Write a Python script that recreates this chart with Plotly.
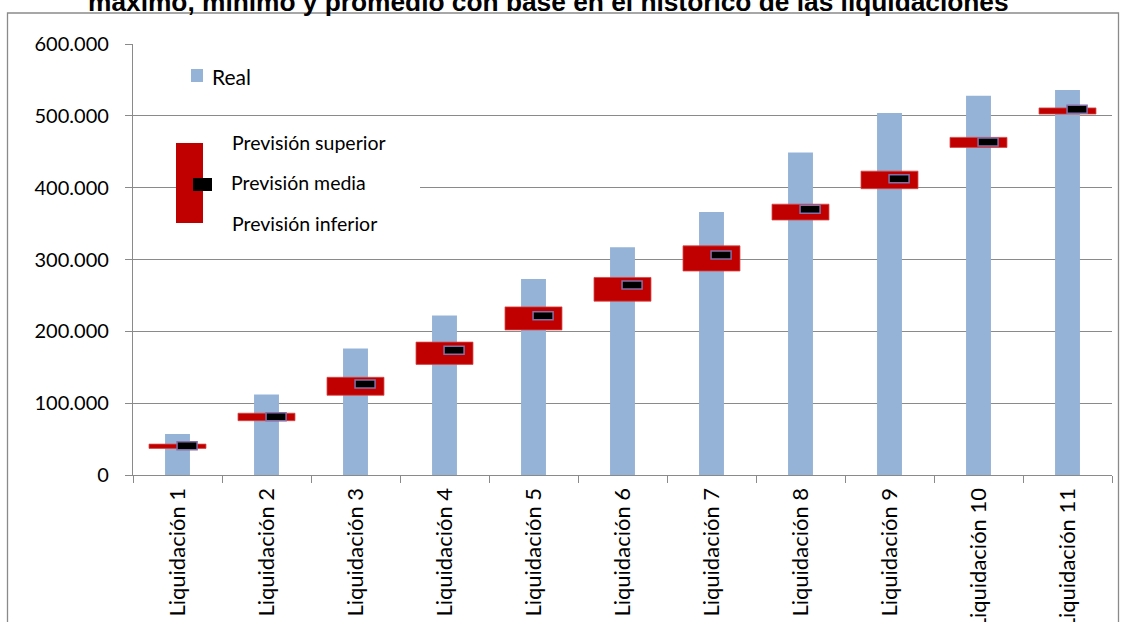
import plotly.graph_objects as go

# categories and values
categorias = ["Liquidación 1", "Liquidación 2", "Liquidación 3", "Liquidación 4",
              "Liquidación 5", "Liquidación 6", "Liquidación 7", "Liquidación 8",
              "Liquidación 9", "Liquidación 10", "Liquidación 11"]
real = [57000, 112000, 176000, 222000, 273000, 317000, 366000, 449000, 504000, 528000, 536000]
prevision_inferior = [37000, 75600, 111000, 154000, 202000, 242000, 284000, 355000, 398600, 456000, 502500]
prevision_superior = [43000, 86000, 136000, 185000, 234000, 275000, 319000, 377000, 423000, 470000, 511000]
prevision_media = [40600, 81200, 126700, 173600, 221800, 264500, 306200, 369800, 412500, 463600, 509000]

titulo = "máximo, mínimo y promedio con base en el histórico de las liquidaciones"

W, H = 1127, 622
L, R, T, B = 133, 15, 44, 147
PW, PH = W - L - R, H - T - B
YMAX = 600000
GRIS = "#8a8a8a"
FONT = "Lato"


def xp(px):
    return (px - L) / PW


def yp(py):
    return (H - B - py) / PH


# mean marker is a small fixed-height box (about 8 px)
alto_media = 8 * YMAX / PH

fig = go.Figure()
fig.add_trace(go.Bar(x=categorias, y=real, name="Real", width=0.28,
                     marker=dict(color="#95B3D7", line_width=0), showlegend=False))
fig.add_trace(go.Bar(x=categorias,
                     y=[s - i for s, i in zip(prevision_superior, prevision_inferior)],
                     base=prevision_inferior, width=0.64, name="Previsión",
                     marker=dict(color="#C00000", line=dict(color="#D84545", width=0.8)),
                     showlegend=False))
fig.add_trace(go.Bar(x=categorias, y=[alto_media] * len(prevision_media),
                     base=[m - alto_media / 2 for m in prevision_media],
                     width=0.225, offset=-0.005, name="Previsión media",
                     marker=dict(color="#000000", line=dict(color="#8470A6", width=1.5)),
                     showlegend=False))

shapes = [
    # outer chart border
    dict(type="rect", xref="paper", yref="paper", x0=xp(7.5), x1=xp(1118.5),
         y0=yp(700), y1=yp(13), line=dict(color=GRIS, width=1.3), layer="above"),
    # white legend box hiding the gridline
    dict(type="rect", xref="paper", yref="paper", x0=xp(176), x1=xp(420),
         y0=yp(238), y1=yp(128), fillcolor="white", line_width=0, layer="above"),
    # legend symbols
    dict(type="rect", xref="paper", yref="paper", x0=xp(191), x1=xp(203),
         y0=yp(82), y1=yp(69), fillcolor="#95B3D7", line_width=0, layer="above"),
    dict(type="rect", xref="paper", yref="paper", x0=xp(176), x1=xp(203),
         y0=yp(223), y1=yp(143), fillcolor="#C00000", line_width=0, layer="above"),
    dict(type="rect", xref="paper", yref="paper", x0=xp(193), x1=xp(212),
         y0=yp(191), y1=yp(178), fillcolor="#000000", line_width=0, layer="above"),
]

annotations = [
    dict(text="<b>" + titulo + "</b>", xref="paper", yref="paper", x=xp(548), y=yp(1.5),
         xanchor="center", yanchor="middle", showarrow=False,
         font=dict(family="Liberation Sans, Arial", size=26.3, color="#000000")),
    dict(text="Real", xref="paper", yref="paper", x=xp(210), y=yp(76.5),
         xanchor="left", yanchor="middle", showarrow=False,
         font=dict(family=FONT, size=21, color="#000000")),
    dict(text="Previsión superior", xref="paper", yref="paper", x=xp(230), y=yp(142),
         xanchor="left", yanchor="middle", showarrow=False,
         font=dict(family=FONT, size=19.5, color="#000000")),
    dict(text="Previsión media", xref="paper", yref="paper", x=xp(229), y=yp(182),
         xanchor="left", yanchor="middle", showarrow=False,
         font=dict(family=FONT, size=19.5, color="#000000")),
    dict(text="Previsión inferior", xref="paper", yref="paper", x=xp(230), y=yp(223),
         xanchor="left", yanchor="middle", showarrow=False,
         font=dict(family=FONT, size=19.5, color="#000000")),
]

fig.update_layout(
    width=W, height=H, barmode="overlay", separators=",.",
    paper_bgcolor="white", plot_bgcolor="white",
    margin=dict(l=L, r=R, t=T, b=B, autoexpand=False),
    font=dict(family=FONT, size=19, color="#000000"),
    shapes=shapes, annotations=annotations,
    xaxis=dict(type="category", range=[-0.5, 10.5], tickson="boundaries",
               ticks="outside", ticklen=7, tickcolor=GRIS, tickwidth=1.3,
               showline=True, linecolor=GRIS, linewidth=1.3, showgrid=False,
               tickangle=-90, ticklabelstandoff=3, tickfont=dict(family=FONT, size=22)),
    yaxis=dict(range=[0, YMAX], dtick=100000, tickformat=",.0f",
               ticks="outside", ticklen=7, tickcolor=GRIS, tickwidth=1.3,
               showline=True, linecolor=GRIS, linewidth=1.3,
               showgrid=True, gridcolor=GRIS, gridwidth=1.3, zeroline=False,
               ticklabelstandoff=12, tickfont=dict(family=FONT, size=20)),
)

# drop the page's default body margin so the figure sits at the window corner
fig.write_html("out.html", config={"displayModeBar": False},
               post_script="document.body.style.margin='0';")
